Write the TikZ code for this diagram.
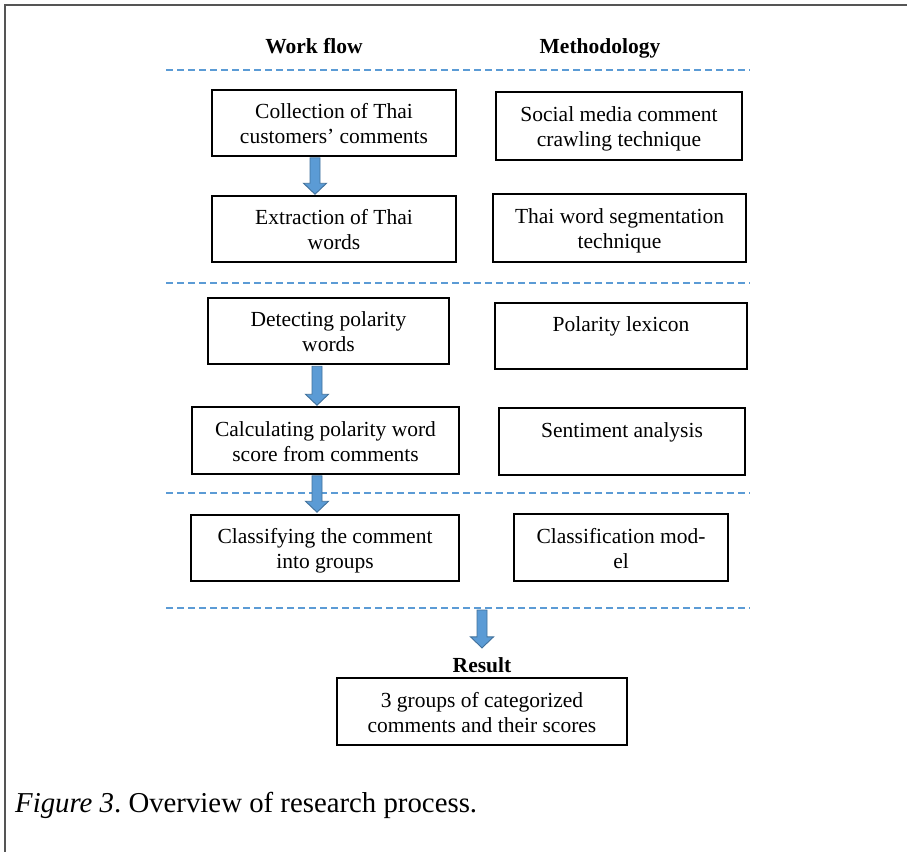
\documentclass[tikz,border=0pt]{standalone}
\usepackage{fontspec}
\setmainfont{Liberation Serif}
\usetikzlibrary{calc}
\definecolor{arrowfill}{HTML}{5B9BD5}
\definecolor{arrowedge}{HTML}{41719C}
\definecolor{dashblue}{HTML}{5B9BD5}
\definecolor{framegray}{HTML}{555555}
\tikzset{
  flowbox/.style={draw=black, line width=1.5pt, align=center, inner sep=0pt,
    font=\fontsize{21.5}{25}\selectfont, text height=42.5pt, text depth=1.5pt},
  hdr/.style={font=\fontsize{21.5}{25}\selectfont\bfseries, inner sep=0pt},
  sepline/.style={draw=dashblue, line width=1.3pt, dash pattern=on 7pt off 4pt},
  blockarrowstyle/.style={fill=arrowfill, draw=arrowedge, line width=0.9pt, line join=miter},
}
\newcommand{\blockarrow}[3]{%
  \path[blockarrowstyle] let \p1=(#2), \p2=(#3) in
    (#1pt-5pt,\y1) -- (#1pt+5pt,\y1) -- (#1pt+5pt,\y2+11pt) -- (#1pt+11.5pt,\y2+11pt)
    -- (#1pt,\y2) -- (#1pt-11.5pt,\y2+11pt) -- (#1pt-5pt,\y2+11pt) -- cycle;}
\begin{document}
\frenchspacing
\begin{tikzpicture}[x=1pt,y=-1pt]
\useasboundingbox (0,0) rectangle (907,852);
\fill[white] (0,0) rectangle (907,852);
% frame
\draw[framegray, line width=2pt] (907,5) -- (5,5) -- (5,852);
% headers
\node[hdr, anchor=base] (hwf) at (314,53) {Work flow};
\node[hdr, anchor=base] (hme) at (600,53) {Methodology};
% separators
\draw[sepline] (166,70) -- (750,70);
\draw[sepline] (166,283) -- (750,283);
\draw[sepline] (166,493) -- (750,493);
\draw[sepline] (166,608) -- (750,608);
% work flow boxes
\node[flowbox, minimum width=244, minimum height=66] (b1) at (334,123) {Collection of Thai\\customers’ comments};
\node[flowbox, minimum width=244, minimum height=66] (b2) at (334,229) {Extraction of Thai\\words};
\node[flowbox, minimum width=241, minimum height=66] (b3) at (328.5,331) {Detecting polarity\\words};
\node[flowbox, minimum width=267, minimum height=67] (b4) at (325.5,440.5) {Calculating polarity word\\score from comments};
\node[flowbox, minimum width=268, minimum height=66] (b5) at (325,548) {Classifying the comment\\into groups};
% methodology boxes
\node[flowbox, minimum width=246, minimum height=68] (m1) at (619,126) {Social media comment\\crawling technique};
\node[flowbox, minimum width=253, minimum height=68] (m2) at (619.5,228) {Thai word segmentation\\technique};
\node[flowbox, minimum width=252, minimum height=66] (m3) at (621,336) {Polarity lexicon\\\mbox{}};
\node[flowbox, minimum width=246, minimum height=67] (m4) at (622,441.5) {Sentiment analysis\\\mbox{}};
\node[flowbox, minimum width=214, minimum height=67] (m5) at (621,547.5) {Classification mod-\\el};
% result
\node[hdr, anchor=base] (res) at (482,672) {Result};
\node[flowbox, minimum width=290, minimum height=67] (rbox) at (482,711.5) {3 groups of categorized\\comments and their scores};
% arrows
\coordinate (d4a) at (482,610);
\blockarrow{315}{$(b1.south)+(0,1)$}{$(b2.north)+(0,-1)$}
\blockarrow{317}{$(b3.south)+(0,1.5)$}{$(b4.north)+(0,-1)$}
\blockarrow{317}{$(b4.south)+(0,1)$}{$(b5.north)+(0,-2)$}
\blockarrow{482}{d4a}{$(res.north)+(0,-9)$}
% caption
\node[anchor=base west, inner sep=0pt, font=\fontsize{28.8}{34}\selectfont] (cap) at (15,812) {\textit{Figure 3}. Overview of research process.};
\end{tikzpicture}
\end{document}
